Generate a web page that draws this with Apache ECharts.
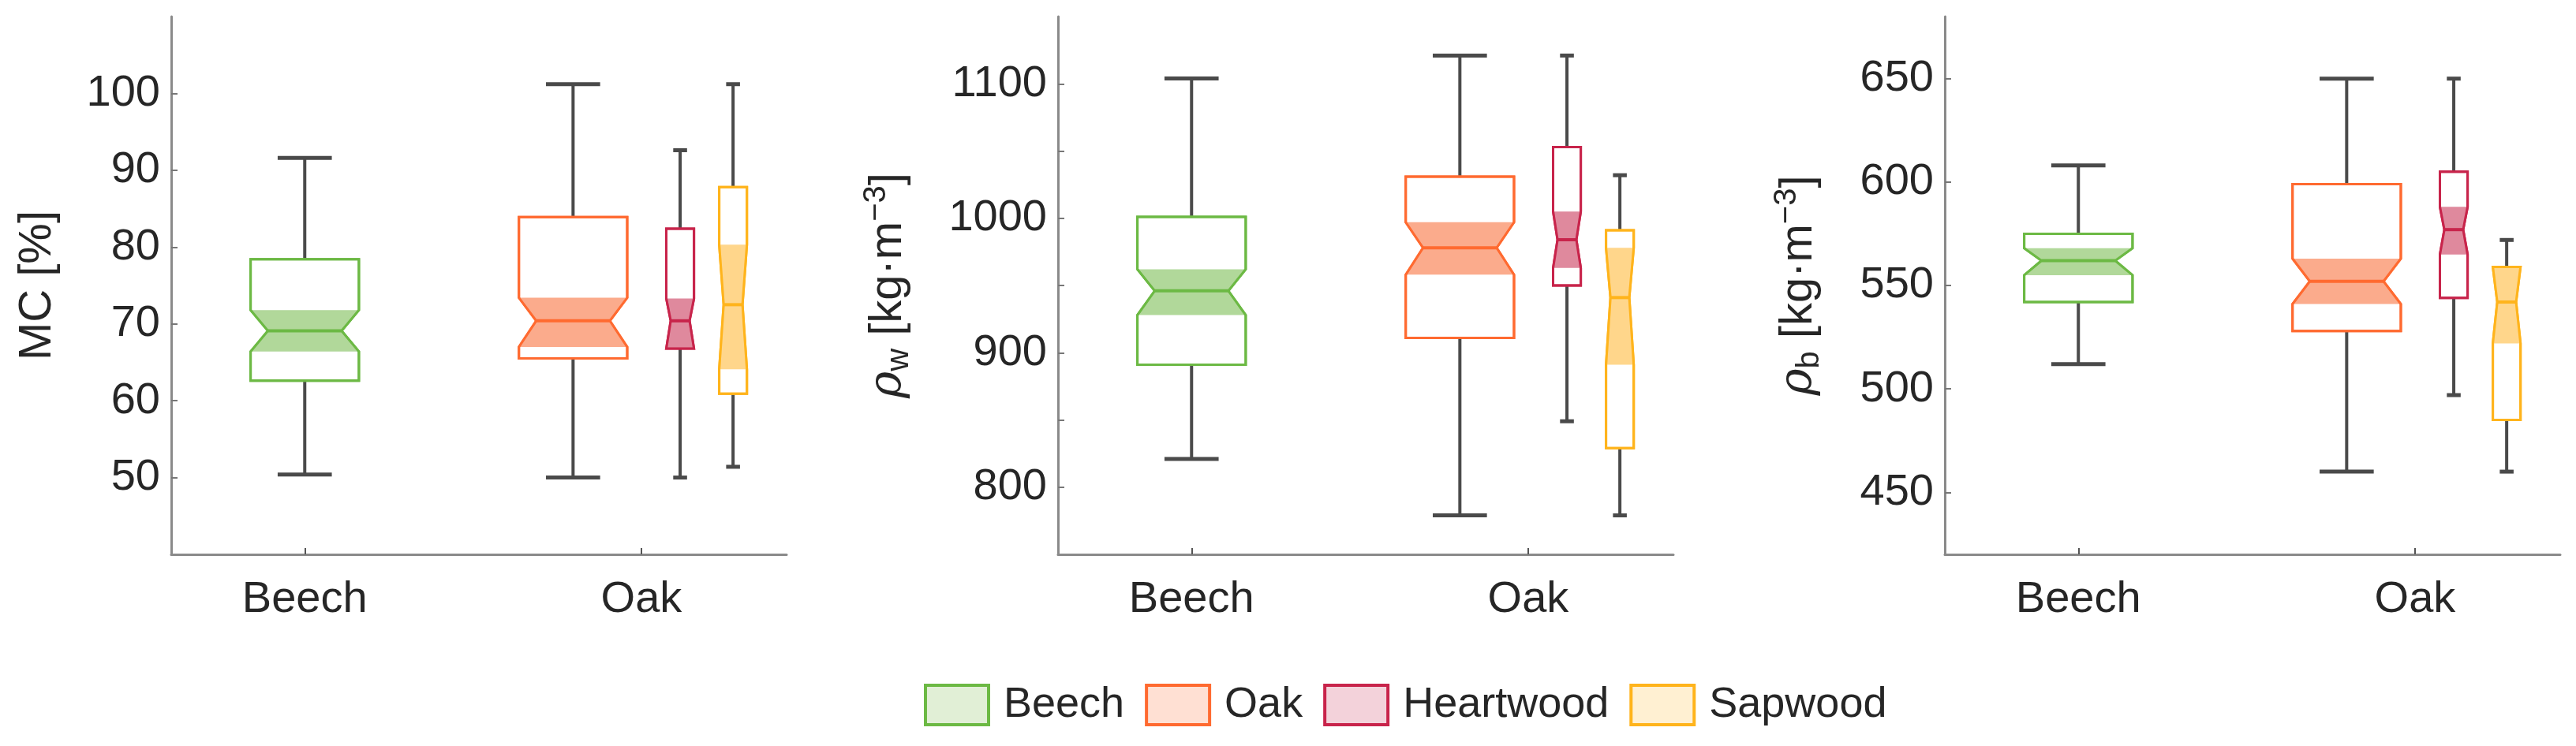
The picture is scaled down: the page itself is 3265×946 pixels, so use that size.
<!DOCTYPE html>
<html><head><meta charset="utf-8">
<script src="https://cdn.jsdelivr.net/npm/echarts@6/dist/echarts.min.js"></script>
<style>html,body{margin:0;padding:0;background:#fff}#c{width:3265px;height:946px}</style>
</head><body><div id="c"></div>
<script>
// categories
const categories = ['Beech', 'Oak'];
const groups = ['Beech', 'Oak', 'Heartwood', 'Sapwood'];
// each entry: [lowWhisker, Q1, notchLow, median, notchHigh, Q3, highWhisker]
const mcBeech = [50.4, 62.6, 66.4, 69.1, 71.8, 78.4, 91.6];
const mcOak = [50.0, 65.5, 67.0, 70.4, 73.4, 83.9, 101.2];
const mcHeart = [50.0, 66.8, 66.8, 70.4, 73.3, 82.4, 92.6];
const mcSap = [51.4, 60.9, 64.1, 72.5, 80.3, 87.8, 101.2];
const rwBeech = [821, 891, 928, 946, 962, 1001, 1104];
const rwOak = [779, 911, 958, 978, 997, 1031, 1121];
const rwHeart = [849, 950, 963, 984, 1005, 1053, 1121];
const rwSap = [779, 829, 891, 941, 978, 991, 1032];
const rbBeech = [512, 542, 555, 562, 568, 575, 608];
const rbOak = [460, 528, 541, 552, 563, 599, 650];
const rbHeart = [497, 544, 565, 577, 588, 605, 650];
const rbSap = [460, 485, 522, 542, 559, 559, 572];
// tick labels
const mcTicks = [50, 60, 70, 80, 90, 100];
const rwTicks = [800, 900, 1000, 1100];
const rwMinor = [850, 950, 1050];
const rbTicks = [450, 500, 550, 600, 650];

// layout (not data)
const GX = [0.217, 0.653, 0.827, 0.913];
const GW = [0.176, 0.176, 0.045, 0.045];
const CATX = [0.217, 0.764];
const stroke = ['#6cb944', '#ff6a30', '#c8244b', '#ffb41c'];
const fill = ['#a9d48f', '#fba27f', '#dc7c92', '#ffd27e'];
const legendFill = ['#e1efd6', '#ffe0d3', '#f3d2da', '#fff0d2'];
const panels = [
  {data: [mcBeech, mcOak, mcHeart, mcSap], min: 40, max: 110, ticks: mcTicks, minor: [], name: 'MC [%]'},
  {data: [rwBeech, rwOak, rwHeart, rwSap], min: 750, max: 1150, ticks: rwTicks, minor: rwMinor, name: '{i|ρ}{sub|w} [kg·m{sup|−3}]'},
  {data: [rbBeech, rbOak, rbHeart, rbSap], min: 420, max: 680, ticks: rbTicks, minor: [], name: '{i|ρ}{sub|b} [kg·m{sup|−3}]'}
];
const lefts = [217, 1341, 2465];
const nameGaps = [140, 180, 150];
const grids = [], xAxes = [], yAxes = [], series = [];
const FONT = 'Liberation Sans, Arial, sans-serif';
panels.forEach((p, pi) => {
  grids.push({left: lefts[pi], width: 780, top: 21, height: 682});
  xAxes.push({type: 'value', gridIndex: pi, min: 0, max: 1,
    axisLine: {show: true, lineStyle: {color: '#8a8a8a', width: 3}},
    splitLine: {show: false},
    axisTick: {show: true, inside: true, length: 8, customValues: CATX, lineStyle: {color: '#555', width: 2}},
    axisLabel: {customValues: CATX, formatter: v => v < 0.5 ? categories[0] : categories[1],
      fontSize: 56, color: '#262626', margin: 30, fontFamily: FONT}});
  yAxes.push({type: 'value', gridIndex: pi, min: p.min, max: p.max,
    axisLine: {show: true, lineStyle: {color: '#8a8a8a', width: 3}},
    splitLine: {show: false},
    axisTick: {show: true, inside: true, length: 8, customValues: p.ticks.concat(p.minor), lineStyle: {color: '#777', width: 2}},
    axisLabel: {customValues: p.ticks, formatter: v => String(v), fontSize: 56, color: '#262626', margin: 14, fontFamily: FONT},
    name: p.name, nameLocation: 'middle', nameGap: nameGaps[pi], nameRotate: 90,
    nameTextStyle: {fontSize: 58, color: '#262626', fontFamily: FONT,
      rich: {i: {fontSize: 58, fontStyle: 'italic', fontFamily: 'DejaVu Serif', color: '#262626'},
             sub: {fontSize: 40, color: '#262626', fontFamily: FONT, padding: [28, 0, 0, 0]},
             sup: {fontSize: 40, color: '#262626', fontFamily: FONT, padding: [0, 0, 30, 0]}}}});
  p.data.forEach((d, gi) => {
    series.push({type: 'custom', name: groups[gi], xAxisIndex: pi, yAxisIndex: pi,
      itemStyle: {color: legendFill[gi], borderColor: stroke[gi]},
      data: [[GX[gi]].concat(d)],
      renderItem: (params, api) => {
        const x = api.value(0);
        const hw = GW[gi] / 2;
        const P = (xx, yy) => api.coord([xx, yy]);
        const [lo, q1, nl, med, nh, q3, hi] = [1,2,3,4,5,6,7].map(k => api.value(k));
        const ind = GW[gi] * 0.16;
        const L = x - hw, R = x + hw;
        const box = [P(L, q3), P(R, q3), P(R, nh), P(R - ind, med), P(R, nl), P(R, q1), P(L, q1), P(L, nl), P(L + ind, med), P(L, nh)];
        const notch = [P(L, nh), P(R, nh), P(R - ind, med), P(R, nl), P(L, nl), P(L + ind, med)];
        const cap = GW[gi] / 4;
        const wc = '#4a4a4a';
        return {type: 'group', children: [
          {type: 'line', shape: {x1: P(x, q3)[0], y1: P(x, q3)[1], x2: P(x, hi)[0], y2: P(x, hi)[1]}, style: {stroke: wc, lineWidth: 4}},
          {type: 'line', shape: {x1: P(x, q1)[0], y1: P(x, q1)[1], x2: P(x, lo)[0], y2: P(x, lo)[1]}, style: {stroke: wc, lineWidth: 4}},
          {type: 'line', shape: {x1: P(x - cap, hi)[0], y1: P(x, hi)[1], x2: P(x + cap, hi)[0], y2: P(x, hi)[1]}, style: {stroke: wc, lineWidth: 5}},
          {type: 'line', shape: {x1: P(x - cap, lo)[0], y1: P(x, lo)[1], x2: P(x + cap, lo)[0], y2: P(x, lo)[1]}, style: {stroke: wc, lineWidth: 5}},
          {type: 'polygon', shape: {points: box}, style: {fill: '#fff', stroke: stroke[gi], lineWidth: 3}},
          {type: 'polygon', shape: {points: notch}, style: {fill: fill[gi], opacity: 0.9}},
          {type: 'line', shape: {x1: P(L + ind, med)[0], y1: P(x, med)[1], x2: P(R - ind, med)[0], y2: P(x, med)[1]}, style: {stroke: stroke[gi], lineWidth: 4}},
          {type: 'polygon', shape: {points: box}, style: {fill: 'none', stroke: stroke[gi], lineWidth: 3}}
        ]};
      }});
  });
});
const chart = echarts.init(document.getElementById('c'));
chart.setOption({
  animation: false,
  grid: grids, xAxis: xAxes, yAxis: yAxes, series: series,
  legend: {top: 862, left: 1166, selectedMode: false, itemWidth: 80, itemHeight: 50, itemGap: 26,
    textStyle: {fontSize: 54, color: '#262626', fontFamily: FONT, padding: [0, 0, 0, 14]},
    data: groups.map((g, i) => ({name: g, icon: 'rect', itemStyle: {color: legendFill[i], borderColor: stroke[i], borderWidth: 4}}))}
});
</script></body></html>
